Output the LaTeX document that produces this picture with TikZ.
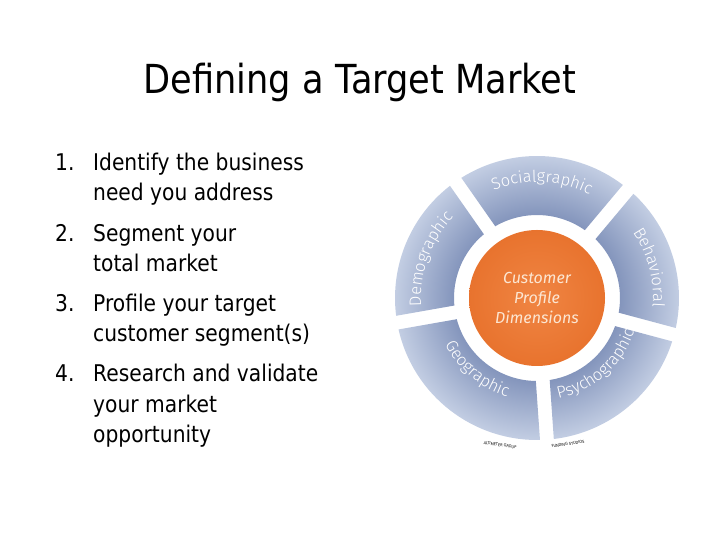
\documentclass[tikz,border=0pt]{standalone}
\usepackage{fontspec}
\setmainfont{DejaVu Sans}[FakeStretch=0.88]
\newfontfamily\segfont{Fira Sans Light}
\newfontfamily\ctrfont{Fira Sans}
\usetikzlibrary{decorations.text,calc}
\definecolor{ringlight}{HTML}{CBD5E8}
\definecolor{ringdark}{HTML}{2C4686}
\definecolor{orng}{HTML}{F08543}
\definecolor{orngdark}{HTML}{E8732E}
\definecolor{ctrtext}{HTML}{FCE6D2}
\tikzset{
  body/.style={anchor=base west,inner sep=0pt,font=\fontsize{23}{30.5}\selectfont},
  seglabel/.style={decorate,decoration={text along path,text align=center,
     text={|\segfont\fontsize{16.5}{16}\selectfont\color{white}|#1}}},
  tiny/.style={font=\fontsize{4}{4}\selectfont,inner sep=0pt}
}
\begin{document}
\begin{tikzpicture}[x=1pt,y=1pt]
\useasboundingbox (0,0) rectangle (720,540);
\coordinate (c) at (537,242);
% title
\node (title) at (360,458) {\fontsize{40}{40}\selectfont Defining a Target Market};
% list
\node[body] (n1) at (55,369) {1.};
\node[body] (t1a) at (93,369) {Identify the business};
\node[body] (t1b) at (93,339) {need you address};
\node[body] (n2) at (55,298) {2.};
\node[body] (t2a) at (93,298) {Segment your};
\node[body] (t2b) at (93,268) {total market};
\node[body] (n3) at (55,228) {3.};
\node[body] (t3a) at (93,228) {Profile your target};
\node[body] (t3b) at (93,198) {customer segment(s)};
\node[body] (n4) at (55,158) {4.};
\node[body] (t4a) at (93,158) {Research and validate};
\node[body] (t4b) at (93,127) {your market};
\node[body] (t4c) at (93,97) {opportunity};
% ring segments
\def\Ro{142}\def\Ri{83}\def\go{2.8}\def\gi{4.8}
\begin{scope}
\clip
  ($(c)+(50+\go:\Ro)$) arc[start angle=50+\go,end angle=125-\go,radius=\Ro] -- ($(c)+(125-\gi:\Ri)$) arc[start angle=125-\gi,end angle=50+\gi,radius=\Ri] -- cycle
  ($(c)+(125+\go:\Ro)$) arc[start angle=125+\go,end angle=190-\go,radius=\Ro] -- ($(c)+(190-\gi:\Ri)$) arc[start angle=190-\gi,end angle=125+\gi,radius=\Ri] -- cycle
  ($(c)+(190+\go:\Ro)$) arc[start angle=190+\go,end angle=274-\go,radius=\Ro] -- ($(c)+(274-\gi:\Ri)$) arc[start angle=274-\gi,end angle=190+\gi,radius=\Ri] -- cycle
  ($(c)+(274+\go:\Ro)$) arc[start angle=274+\go,end angle=345-\go,radius=\Ro] -- ($(c)+(345-\gi:\Ri)$) arc[start angle=345-\gi,end angle=274+\gi,radius=\Ri] -- cycle
  ($(c)+(345+\go:\Ro)$) arc[start angle=345+\go,end angle=410-\go,radius=\Ro] -- ($(c)+(410-\gi:\Ri)$) arc[start angle=410-\gi,end angle=345+\gi,radius=\Ri] -- cycle;
\shade[inner color=ringdark,outer color=ringlight] ($(c)+(-150,-150)$) rectangle ($(c)+(150,150)$);
\end{scope}
% center
\node[circle,minimum size=136pt,inner sep=0pt,inner color=orng,outer color=orngdark,
  text=ctrtext,align=center,font=\ctrfont\itshape\fontsize{16}{20}\selectfont] (core) at (c)
  {Customer\\Profile\\Dimensions};
% labels
\path[seglabel=Socialgraphic] ($(c)+(120:116)$) arc[start angle=120,end angle=55,radius=116];
\path[seglabel=Demographic] ($(c)+(200:116)$) arc[start angle=200,end angle=120,radius=116];
\path[seglabel=Behavioral] ($(c)+(50:116)$) arc[start angle=50,end angle=-20,radius=116];
\path[seglabel=Geographic] ($(c)+(185:103)$) arc[start angle=185,end angle=275,radius=103];
\path[seglabel=Psychographic] ($(c)+(273:103)$) arc[start angle=273,end angle=350,radius=103];
% credits
\node[tiny,rotate=-8] (cr1) at (500,95) {ALTIMETER GROUP};
\node[tiny,rotate=8] (cr2) at (568,96) {FUNDING STUDIOS};
\end{tikzpicture}
\end{document}
